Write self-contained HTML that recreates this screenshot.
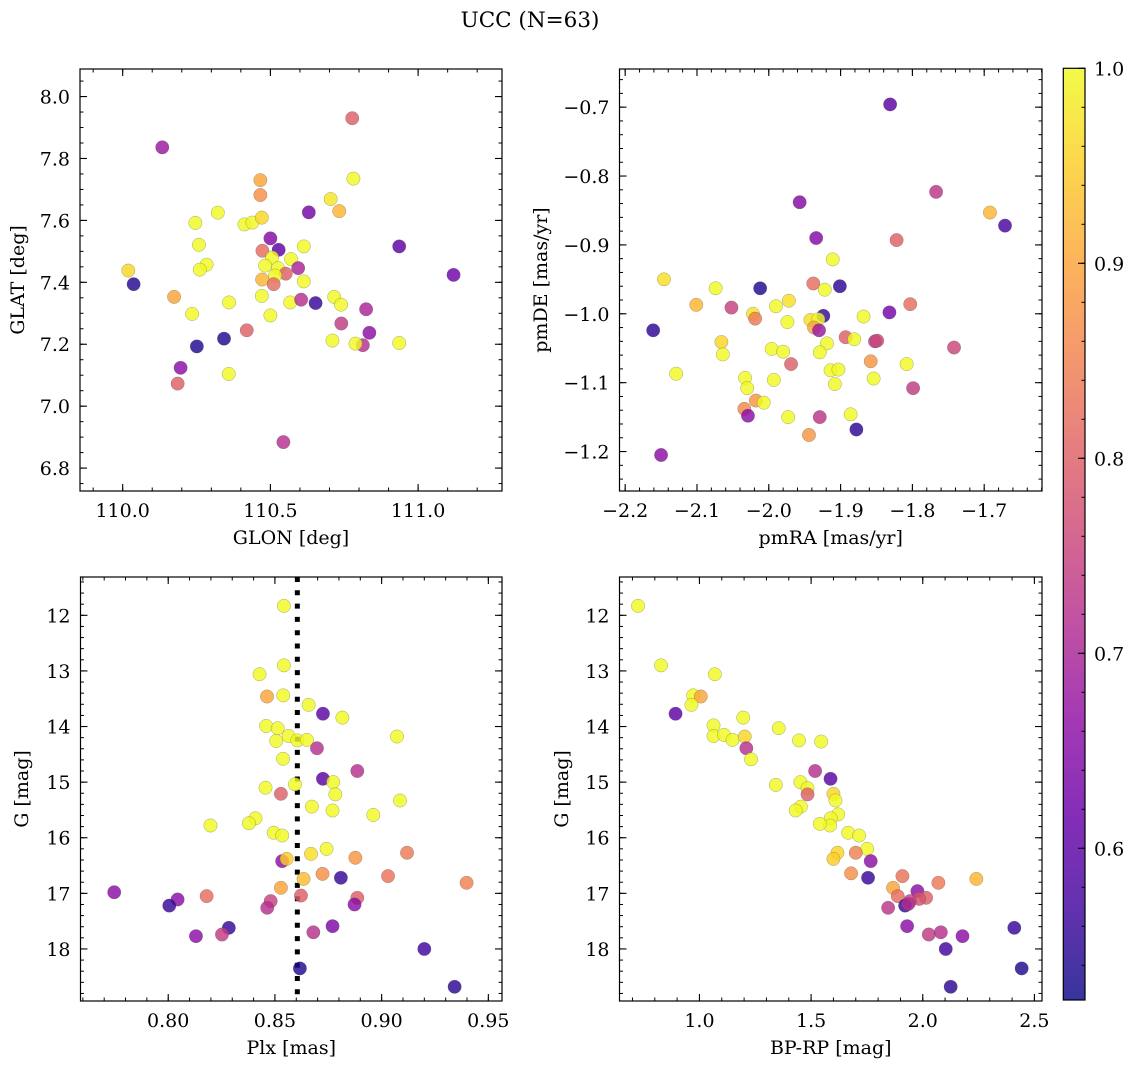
<!DOCTYPE html>
<html><head><meta charset="utf-8">
<style>
html,body{margin:0;padding:0;background:#fff;}
svg{display:block;font-family:"DejaVu Serif","Liberation Serif",serif;}
</style></head>
<body>
<svg id="fig" width="1136" height="1068" viewBox="0 0 1136 1068" xmlns="http://www.w3.org/2000/svg">
<text x="530" y="27" font-size="21.5" text-anchor="middle">UCC (N=63)</text>
</svg>
<script>
// ---- Panel 1: GLON / GLAT ----
const glonX = [110.777,110.134,110.466,110.466,110.781,110.704,110.733,110.630,110.322,110.246,110.412,110.439,110.471,110.936,111.120,110.258,110.500,110.528,110.473,110.613,110.506,110.570,110.482,110.526,110.594,110.284,110.261,110.019,110.552,110.516,110.472,110.511,110.613,110.037,110.174,110.471,110.716,110.360,110.567,110.604,110.653,110.739,110.824,110.235,110.500,110.740,110.420,110.835,110.343,110.251,110.710,110.813,110.788,110.936,110.196,110.186,110.359,110.544];
const glatY = [7.930,7.836,7.730,7.682,7.735,7.669,7.630,7.626,7.625,7.592,7.587,7.593,7.609,7.516,7.424,7.521,7.542,7.505,7.502,7.516,7.480,7.475,7.454,7.446,7.446,7.457,7.441,7.438,7.428,7.422,7.409,7.394,7.403,7.394,7.353,7.356,7.353,7.335,7.335,7.344,7.333,7.328,7.313,7.298,7.293,7.267,7.245,7.237,7.218,7.193,7.212,7.197,7.202,7.204,7.124,7.073,7.104,6.884];
const glP = [0.80,0.68,0.90,0.87,1,0.98,0.92,0.63,1,1,1,1,0.96,0.60,0.62,1,0.65,0.60,0.82,1,1,1,1,1,0.70,1,1,0.96,0.80,1,0.92,0.82,1,0.54,0.90,1,1,1,1,0.72,0.56,1,0.70,1,1,0.74,0.80,0.66,0.54,0.54,1,0.72,1,1,0.66,0.80,1,0.72];
const glonTicks = [110.0,110.5,111.0];
const glonTickLabels = ["110.0","110.5","111.0"];
const glatTicks = [6.8,7.0,7.2,7.4,7.6,7.8,8.0];
const glatTickLabels = ["6.8","7.0","7.2","7.4","7.6","7.8","8.0"];

// ---- Panel 2: pmRA / pmDE ----
const pmraX = [-1.831,-1.767,-1.957,-1.692,-1.671,-1.934,-1.822,-1.911,-2.146,-1.938,-1.922,-2.012,-1.901,-2.074,-1.972,-2.101,-1.990,-1.803,-2.052,-1.832,-2.022,-2.019,-1.924,-1.868,-1.942,-1.931,-1.974,-1.937,-1.930,-2.161,-1.893,-1.881,-1.852,-1.849,-2.066,-1.919,-1.742,-1.996,-2.064,-1.980,-1.929,-1.969,-1.858,-1.808,-1.914,-1.903,-2.129,-2.033,-1.854,-1.993,-1.908,-2.030,-1.799,-2.018,-2.007,-2.034,-2.029,-1.973,-1.929,-1.886,-1.878,-1.944,-2.150];
const pmdeY = [-0.696,-0.823,-0.838,-0.853,-0.872,-0.890,-0.893,-0.921,-0.950,-0.956,-0.965,-0.963,-0.960,-0.963,-0.981,-0.987,-0.989,-0.986,-0.991,-0.998,-1.000,-1.007,-1.003,-1.004,-1.009,-1.008,-1.012,-1.020,-1.024,-1.024,-1.034,-1.037,-1.040,-1.039,-1.041,-1.043,-1.049,-1.051,-1.059,-1.055,-1.056,-1.073,-1.069,-1.073,-1.082,-1.081,-1.087,-1.093,-1.094,-1.096,-1.102,-1.108,-1.108,-1.126,-1.129,-1.138,-1.148,-1.150,-1.150,-1.146,-1.168,-1.176,-1.205];
const pmP = [0.60,0.73,0.65,0.92,0.58,0.65,0.80,1,0.97,0.82,1,0.54,0.55,1,0.97,0.92,1,0.82,0.75,0.63,0.98,0.84,0.56,1,0.97,1,1,0.90,0.68,0.55,0.80,1,0.72,0.76,0.96,1,0.76,1,1,1,1,0.80,0.88,1,1,1,1,1,1,1,1,1,0.74,0.88,1,0.86,0.66,1,0.73,1,0.55,0.88,0.66];
const pmraTicks = [-2.2,-2.1,-2.0,-1.9,-1.8,-1.7];
const pmraTickLabels = ["\u22122.2","\u22122.1","\u22122.0","\u22121.9","\u22121.8","\u22121.7"];
const pmdeTicks = [-1.2,-1.1,-1.0,-0.9,-0.8,-0.7];
const pmdeTickLabels = ["\u22121.2","\u22121.1","\u22121.0","\u22120.9","\u22120.8","\u22120.7"];

// ---- Panel 3: Plx / G ----
const plxX = [0.8542,0.8542,0.8428,0.8463,0.8539,0.8658,0.8725,0.8816,0.8459,0.8513,0.8564,0.8605,0.8650,0.8506,0.9072,0.8697,0.8538,0.8886,0.8725,0.8773,0.8594,0.8456,0.8528,0.8783,0.9086,0.8673,0.8770,0.8961,0.8409,0.8378,0.8198,0.8494,0.8534,0.8742,0.8669,0.9119,0.8877,0.8534,0.8555,0.8723,0.8634,0.8809,0.9030,0.9398,0.7747,0.8528,0.8180,0.8622,0.8886,0.8044,0.8480,0.8005,0.8464,0.8873,0.8284,0.8770,0.8130,0.8252,0.8680,0.9200,0.8617,0.9342];
const plxG = [11.83,12.90,13.06,13.46,13.44,13.61,13.77,13.84,13.99,14.03,14.17,14.25,14.24,14.26,14.18,14.39,14.58,14.80,14.94,15.00,15.04,15.10,15.21,15.22,15.33,15.44,15.51,15.59,15.65,15.74,15.78,15.91,15.96,16.20,16.29,16.27,16.36,16.42,16.38,16.65,16.74,16.72,16.69,16.81,16.98,16.90,17.05,17.04,17.08,17.11,17.14,17.22,17.26,17.20,17.62,17.59,17.77,17.74,17.70,18.00,18.35,18.68];
const plxP = [1,1,1,0.90,1,1,0.60,1,1,1,1,1,1,1,1,0.72,1,0.72,0.60,1,1,1,0.80,1,1,1,1,1,1,1,1,1,1,1,0.97,0.84,0.88,0.66,0.95,0.87,0.93,0.56,0.83,0.85,0.66,0.90,0.82,0.80,0.80,0.66,0.75,0.56,0.72,0.66,0.56,0.64,0.66,0.74,0.72,0.57,0.54,0.55];
const plxRef = [0.8605];
const plxTicks = [0.80,0.85,0.90,0.95];
const plxTickLabels = ["0.80","0.85","0.90","0.95"];
const gTicks = [12,13,14,15,16,17,18];
const gTickLabels = ["12","13","14","15","16","17","18"];

// ---- Panel 4: BP-RP / G ----
const bprpX = [0.725,0.828,1.069,0.972,1.006,0.964,0.893,1.196,1.063,1.355,1.063,1.110,1.148,1.203,1.446,1.545,1.210,1.231,1.518,1.587,1.342,1.452,1.484,1.484,1.600,1.609,1.454,1.431,1.621,1.588,1.585,1.539,1.666,1.715,1.751,1.618,1.700,1.600,1.767,1.679,1.755,1.909,2.240,2.070,1.867,1.976,1.888,2.015,1.984,1.943,1.921,1.845,1.936,1.930,2.027,2.081,2.178,2.410,2.103,2.443,2.125];
const bprpG = [11.83,12.90,13.06,13.44,13.46,13.61,13.77,13.84,13.98,14.03,14.17,14.15,14.24,14.18,14.25,14.27,14.39,14.59,14.80,14.94,15.05,15.00,15.11,15.22,15.21,15.33,15.44,15.51,15.58,15.65,15.78,15.75,15.91,15.96,16.20,16.27,16.27,16.38,16.42,16.64,16.72,16.69,16.74,16.81,16.90,16.96,17.05,17.08,17.10,17.14,17.22,17.26,17.19,17.59,17.74,17.70,17.77,17.62,18.00,18.35,18.68];
const bprpP = [1,1,1,1,0.90,1,0.60,1,1,1,1,1,1,0.96,1,1,0.72,1,0.72,0.60,1,1,1,0.80,0.96,1,1,1,1,1,1,1,1,1,1,0.96,0.85,0.95,0.66,0.87,0.56,0.83,0.92,0.84,0.90,0.66,0.82,0.80,0.78,0.75,0.56,0.73,0.72,0.66,0.74,0.72,0.66,0.56,0.57,0.54,0.55];
const bprpTicks = [1.0,1.5,2.0,2.5];
const bprpTickLabels = ["1.0","1.5","2.0","2.5"];

// ---- Colorbar ----
const cbTicks = [0.6,0.7,0.8,0.9,1.0];
const cbTickLabels = ["0.6","0.7","0.8","0.9","1.0"];
const vmin = 0.5222, vmax = 1.0;

const FS = 19;
const NS = "http://www.w3.org/2000/svg";
const svg = document.getElementById('fig');
const plasma = [[13,8,135],[65,4,157],[106,0,168],[143,13,164],[177,42,144],[204,71,120],[225,100,98],[242,132,75],[252,166,54],[252,206,37],[240,249,33]];
function cmap(v){
  let t = (v - vmin) / (vmax - vmin); t = Math.max(0, Math.min(1, t));
  const f = t * 10, i = Math.min(9, Math.floor(f)), r = f - i;
  const a = plasma[i], b = plasma[i+1];
  return 'rgb(' + [0,1,2].map(k => Math.round(a[k] + (b[k]-a[k]) * r)).join(',') + ')';
}
function mk(tag, attrs, parent){
  const e = document.createElementNS(NS, tag);
  for (const k in attrs) e.setAttribute(k, attrs[k]);
  (parent || svg).appendChild(e);
  return e;
}
function range(a, b, s){ const out = []; for (let v = a; v <= b + 1e-9; v += s) out.push(+v.toFixed(6)); return out; }

function panel(cfg){
  const {L,R,T,B,xmin,xmax,ymin,ymax,yInv} = cfg;
  const g = mk('g', {});
  
  
  const sx = v => L + (v - xmin) / (xmax - xmin) * (R - L);
  const sy = yInv ? (v => T + (v - ymin) / (ymax - ymin) * (B - T)) : (v => B - (v - ymin) / (ymax - ymin) * (B - T));
  const clip = 'clip-' + cfg.name;
  const cp = mk('clipPath', {id: clip}, g);
  mk('rect', {x: L, y: T, width: R - L, height: B - T}, cp);
  if (cfg.vline) {
    cfg.vline.forEach(v => {
      const ln = mk('line', {x1: sx(v), x2: sx(v), y1: T, y2: B, stroke: '#000', 'stroke-width': 5, 'stroke-dasharray': '5,8.3'}, g);
      
      
    });
  }
  const pg = mk('g', {'clip-path': 'url(#' + clip + ')'}, g);
  
  
  cfg.xs.forEach((x, i) => {
    const c = mk('circle', {cx: sx(x), cy: sy(cfg.ys[i]), r: 6.7, fill: cmap(cfg.ps[i]), 'fill-opacity': 0.82, stroke: '#555', 'stroke-opacity': 0.5, 'stroke-width': 0.5}, pg);
    
    
  });
  cfg.xMinor.forEach(v => { const X = sx(v); if (X < L || X > R) return;
    mk('line', {x1: X, x2: X, y1: B, y2: B - 3.5, stroke: '#000', 'stroke-width': 1}, g);
    mk('line', {x1: X, x2: X, y1: T, y2: T + 3.5, stroke: '#000', 'stroke-width': 1}, g); });
  cfg.yMinor.forEach(v => { const Y = sy(v); if (Y < T || Y > B) return;
    mk('line', {x1: L, x2: L + 3.5, y1: Y, y2: Y, stroke: '#000', 'stroke-width': 1}, g);
    mk('line', {x1: R, x2: R - 3.5, y1: Y, y2: Y, stroke: '#000', 'stroke-width': 1}, g); });
  cfg.xTicks.forEach((v, i) => { const X = sx(v);
    if (X >= L - 0.5 && X <= R + 0.5) {
      mk('line', {x1: X, x2: X, y1: B, y2: B - 7, stroke: '#000', 'stroke-width': 1.1}, g);
      mk('line', {x1: X, x2: X, y1: T, y2: T + 7, stroke: '#000', 'stroke-width': 1.1}, g);
    }
    const t = mk('text', {x: X, y: B + 26, 'font-size': FS, 'text-anchor': 'middle'}, g);
    
    
    t.textContent = cfg.xLabels[i]; });
  cfg.yTicks.forEach((v, i) => { const Y = sy(v);
    mk('line', {x1: L, x2: L + 7, y1: Y, y2: Y, stroke: '#000', 'stroke-width': 1.1}, g);
    mk('line', {x1: R, x2: R - 7, y1: Y, y2: Y, stroke: '#000', 'stroke-width': 1.1}, g);
    const t = mk('text', {x: L - 10, y: Y + 7, 'font-size': FS, 'text-anchor': 'end'}, g);
    
    
    t.textContent = cfg.yLabels[i]; });
  const frame = mk('rect', {x: L, y: T, width: R - L, height: B - T, fill: 'none', stroke: '#000', 'stroke-width': 1.2}, g);
  
  
  const xl = mk('text', {x: (L + R) / 2, y: B + 53, 'font-size': FS, 'text-anchor': 'middle'}, g);
  
  
  xl.textContent = cfg.xTitle;
  const yx = cfg.yTitleX, yy = (T + B) / 2;
  const yl = mk('text', {x: yx, y: yy, 'font-size': FS, 'text-anchor': 'middle', transform: 'rotate(-90 ' + yx + ' ' + yy + ')'}, g);
  
  
  yl.textContent = cfg.yTitle;
}

panel({name: 'panel-glon-glat', L: 80, R: 502, T: 69, B: 491, xmin: 109.8555, xmax: 111.284, ymin: 6.726, ymax: 8.089,
  xs: glonX, ys: glatY, ps: glP, xTicks: glonTicks, xLabels: glonTickLabels, yTicks: glatTicks, yLabels: glatTickLabels,
  xMinor: range(109.9, 111.3, 0.1), yMinor: range(6.75, 8.1, 0.05), xTitle: 'GLON [deg]', yTitle: 'GLAT [deg]', yTitleX: 24});
panel({name: 'panel-pmra-pmde', L: 619.5, R: 1042, T: 69, B: 491, xmin: -2.2079, xmax: -1.6195, ymin: -1.2573, ymax: -0.6446,
  xs: pmraX, ys: pmdeY, ps: pmP, xTicks: pmraTicks, xLabels: pmraTickLabels, yTicks: pmdeTicks, yLabels: pmdeTickLabels,
  xMinor: range(-2.2, -1.62, 0.02), yMinor: range(-1.24, -0.66, 0.02), xTitle: 'pmRA [mas/yr]', yTitle: 'pmDE [mas/yr]', yTitleX: 547});
panel({name: 'panel-plx-g', L: 80.5, R: 502, T: 577, B: 1001, xmin: 0.7589, xmax: 0.9564, ymin: 11.311, ymax: 18.936, yInv: true,
  xs: plxX, ys: plxG, ps: plxP, xTicks: plxTicks, xLabels: plxTickLabels, yTicks: gTicks, yLabels: gTickLabels, vline: plxRef,
  xMinor: range(0.76, 0.95, 0.01), yMinor: range(11.4, 18.8, 0.2), xTitle: 'Plx [mas]', yTitle: 'G [mag]', yTitleX: 28});
panel({name: 'panel-bprp-g', L: 619.5, R: 1042, T: 577, B: 1001, xmin: 0.642, xmax: 2.534, ymin: 11.311, ymax: 18.936, yInv: true,
  xs: bprpX, ys: bprpG, ps: bprpP, xTicks: bprpTicks, xLabels: bprpTickLabels, yTicks: gTicks, yLabels: gTickLabels,
  xMinor: range(0.7, 2.5, 0.1), yMinor: range(11.4, 18.8, 0.2), xTitle: 'BP-RP [mag]', yTitle: 'G [mag]', yTitleX: 568});

(function(){
  const L = 1063.3, R = 1085, T = 68.3, B = 1000;
  const g = mk('g', {});
  
  
  const defs = mk('defs', {}, g);
  const lg = mk('linearGradient', {id: 'cbgrad', x1: 0, y1: 1, x2: 0, y2: 0}, defs);
  for (let i = 0; i <= 20; i++) {
    const v = vmin + (vmax - vmin) * i / 20;
    mk('stop', {offset: (i / 20), 'stop-color': cmap(v), 'stop-opacity': 0.82}, lg);
  }
  const bar = mk('rect', {x: L, y: T, width: R - L, height: B - T, fill: 'url(#cbgrad)', stroke: '#000', 'stroke-width': 1.2}, g);
  
  
  const sy = v => B - (v - vmin) / (vmax - vmin) * (B - T);
  range(0.54, 1.0, 0.02).forEach(v => mk('line', {x1: R, x2: R - 3.5, y1: sy(v), y2: sy(v), stroke: '#000', 'stroke-width': 1}, g));
  cbTicks.forEach((v, i) => {
    mk('line', {x1: R, x2: R - 7, y1: sy(v), y2: sy(v), stroke: '#000', 'stroke-width': 1.1}, g);
    const t = mk('text', {x: R + 9, y: sy(v) + 7, 'font-size': FS}, g);
    
    
    t.textContent = cbTickLabels[i];
  });
})();
</script>
</body></html>
